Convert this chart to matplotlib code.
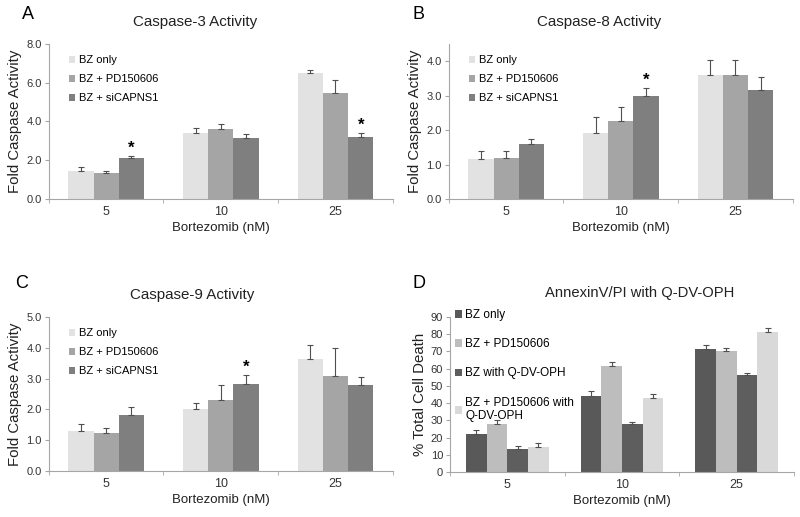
import numpy as np
import matplotlib.pyplot as plt

plt.rcParams['font.family'] = ['Liberation Sans', 'DejaVu Sans']

doses = ['5', '10', '25']

# panels A-C: caspase activity, three treatments
casp_labels = ['BZ only', 'BZ + PD150606', 'BZ + siCAPNS1']
casp_colors = ['#e2e2e2', '#a5a5a5', '#7f7f7f']

casp3_vals = [[1.47, 3.40, 6.52], [1.35, 3.62, 5.47], [2.13, 3.16, 3.22]]
casp3_err = [[0.2, 0.27, 0.15], [0.12, 0.25, 0.68], [0.1, 0.2, 0.2]]
casp3_stars = [(2, 0), (2, 2)]  # (series, dose)

casp8_vals = [[1.15, 1.93, 3.59], [1.18, 2.26, 3.59], [1.61, 3.00, 3.16]]
casp8_err = [[0.25, 0.45, 0.45], [0.2, 0.42, 0.45], [0.12, 0.22, 0.39]]
casp8_stars = [(2, 1)]

casp9_vals = [[1.30, 2.00, 3.64], [1.23, 2.29, 3.07], [1.81, 2.81, 2.78]]
casp9_err = [[0.24, 0.22, 0.46], [0.18, 0.5, 0.92], [0.28, 0.32, 0.27]]
casp9_stars = [(2, 1)]

# panel D: annexin V / PI
annex_labels = ['BZ only', 'BZ + PD150606', 'BZ with Q-DV-OPH',
                'BZ + PD150606 with\nQ-DV-OPH']
annex_colors = ['#595959', '#bdbdbd', '#5e5e5e', '#d9d9d9']
annex_vals = [[22.0, 44.2, 71.6], [28.0, 61.7, 70.0],
              [13.6, 27.8, 56.1], [14.5, 42.9, 81.4]]
annex_err = [[2.4, 3.0, 2.3], [2.4, 2.3, 2.2], [1.3, 1.0, 1.3], [2.2, 2.4, 2.0]]

AXIS_GRAY = '#a6a6a6'


def bar_panel(ax, vals, errs, labels, colors, width, ylim, yticks, fmt,
              ylabel, stars=(), leg_anchor=(0.0, 1.0), leg_spacing=0.8,
              leg_size=8):
    x = np.arange(len(doses))
    n = len(vals)
    handles = []
    for i in range(n):
        pos = x + (i - (n - 1) / 2) * width
        b = ax.bar(pos, vals[i], width, color=colors[i], label=labels[i],
                   zorder=2)
        handles.append(b)
        ax.errorbar(pos, vals[i], yerr=[np.zeros(len(doses)), errs[i]],
                    fmt='none', ecolor='#505050', elinewidth=0.8, capsize=2,
                    capthick=0.8, zorder=3)
    for s, d in stars:
        pos = d + (s - (n - 1) / 2) * width
        ax.annotate('*', (pos, vals[s][d] + errs[s][d]), xytext=(0, 0),
                    textcoords='offset points', ha='center', va='bottom',
                    fontsize=12, fontweight='bold')
    ax.set_xlim(-0.5, len(doses) - 0.5)
    ax.set_ylim(*ylim)
    ax.set_yticks(yticks)
    ax.set_yticklabels([fmt.format(t) for t in yticks], fontsize=8,
                       color='#333333')
    ax.set_xticks(x)
    ax.set_xticklabels(doses, fontsize=9, color='#333333')
    ax.set_xticks(np.arange(-0.5, len(doses)), minor=True)
    ax.tick_params(axis='x', which='major', length=0, pad=5)
    ax.tick_params(axis='x', which='minor', length=3, color=AXIS_GRAY)
    ax.tick_params(axis='y', length=3, color=AXIS_GRAY, pad=2)
    for sp in ['top', 'right']:
        ax.spines[sp].set_visible(False)
    for sp in ['left', 'bottom']:
        ax.spines[sp].set_color(AXIS_GRAY)
        ax.spines[sp].set_linewidth(0.8)
    ax.set_xlabel('Bortezomib (nM)', fontsize=9.5, color='#222222', labelpad=3)
    ax.set_ylabel(ylabel, fontsize=10.8, color='#222222', labelpad=3)
    ax.legend(handles=handles, loc='upper left', bbox_to_anchor=leg_anchor,
              frameon=False, fontsize=leg_size, handlelength=0.6,
              handleheight=0.6, handletextpad=0.3, labelspacing=leg_spacing,
              borderaxespad=0)


fig = plt.figure(figsize=(8, 5.17), dpi=100)

axA = fig.add_axes([0.061, 0.615, 0.43, 0.30])
axB = fig.add_axes([0.561, 0.615, 0.43, 0.30])
axC = fig.add_axes([0.061, 0.089, 0.43, 0.298])
axD = fig.add_axes([0.5625, 0.087, 0.43, 0.30])

bar_panel(axA, casp3_vals, casp3_err, casp_labels, casp_colors, 0.22,
          (0, 8), np.arange(0, 8.1, 2), '{:.1f}', 'Fold Caspase Activity',
          casp3_stars, leg_anchor=(0.045, 0.955))
bar_panel(axB, casp8_vals, casp8_err, casp_labels, casp_colors, 0.22,
          (0, 4.5), np.arange(0, 4.1, 1), '{:.1f}', 'Fold Caspase Activity',
          casp8_stars, leg_anchor=(0.045, 0.955))
bar_panel(axC, casp9_vals, casp9_err, casp_labels, casp_colors, 0.22,
          (0, 5), np.arange(0, 5.1, 1), '{:.1f}', 'Fold Caspase Activity',
          casp9_stars, leg_anchor=(0.045, 0.955))
bar_panel(axD, annex_vals, annex_err, annex_labels, annex_colors, 0.18,
          (0, 90), np.arange(0, 91, 10), '{:.0f}', '% Total Cell Death',
          leg_anchor=(0.0, 1.08), leg_spacing=1.45, leg_size=8.5)

# panel titles and letters
fig.text(0.244, 0.957, 'Caspase-3 Activity', ha='center', va='center',
         fontsize=10.9, color='#222222')
fig.text(0.749, 0.957, 'Caspase-8 Activity', ha='center', va='center',
         fontsize=10.9, color='#222222')
fig.text(0.240, 0.429, 'Caspase-9 Activity', ha='center', va='center',
         fontsize=10.9, color='#222222')
fig.text(0.799, 0.433, 'AnnexinV/PI with Q-DV-OPH', ha='center', va='center',
         fontsize=10.6, color='#222222')
for lx, ly, letter in [(0.027, 0.971, 'A'), (0.516, 0.971, 'B'),
                       (0.019, 0.451, 'C'), (0.516, 0.451, 'D')]:
    fig.text(lx, ly, letter, ha='left', va='center', fontsize=13)

fig.savefig('out.png', dpi=100)
